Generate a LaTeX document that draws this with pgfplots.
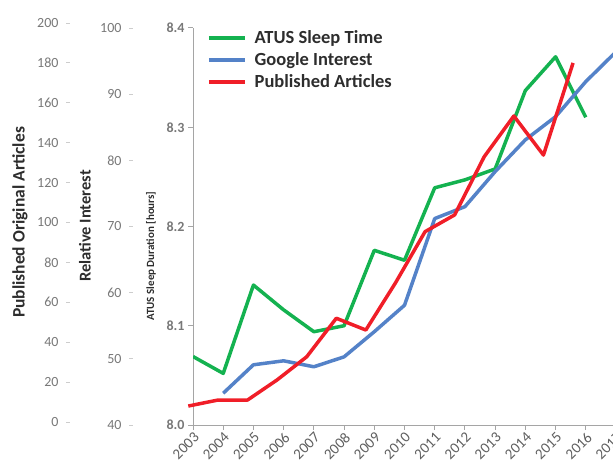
\documentclass[border=0pt]{standalone}
\usepackage{pgfplots}
\pgfplotsset{compat=1.18}
\usepackage{fontspec}
\setmainfont{Carlito}
\definecolor{cgreen}{RGB}{20,178,80}
\definecolor{cblue}{RGB}{84,130,200}
\definecolor{cred}{RGB}{240,30,40}
\definecolor{tickgray}{RGB}{120,120,120}
\definecolor{xtickgray}{RGB}{95,95,95}
\definecolor{axgray}{RGB}{165,165,165}
\definecolor{lightax}{RGB}{205,205,205}
\definecolor{titlecol}{RGB}{45,45,45}

\pgfplotstableread{
x y
2003 8.069
2004 8.052
2005 8.141
2006 8.116
2007 8.094
2008 8.100
2009 8.176
2010 8.166
2011 8.239
2012 8.247
2013 8.258
2014 8.337
2015 8.371
2016 8.310
}\atus

\pgfplotstableread{
x y
2004 44.8
2005 49.1
2006 49.7
2007 48.8
2008 50.3
2009 54.1
2010 58.1
2011 71.2
2012 73.0
2013 78.3
2014 83.1
2015 86.6
2016 91.9
2017 96.4
}\google

\pgfplotstableread{
x y
2002.844 8.0
2003.824 11.0
2004.804 11.0
2005.784 21.1
2006.764 32.7
2007.743 52.0
2008.720 46.1
2009.700 69.7
2010.680 95.4
2011.659 103.8
2012.639 133.0
2013.619 153.4
2014.599 133.8
2015.579 180.0
}\articles

\begin{document}
\begin{tikzpicture}
\useasboundingbox (0,0) rectangle (613pt,461pt);

% main ATUS axis
\begin{axis}[
  at={(193pt,36pt)}, anchor=south west,
  width=423pt, height=397pt, scale only axis,
  xmin=2003, xmax=2017, ymin=8.0, ymax=8.4,
  axis x line*=bottom, axis y line*=left,
  axis line style={axgray, line width=1pt},
  tick style={axgray, line width=1pt},
  tick align=outside, major tick length=5pt,
  xtick={2003,...,2017},
  ytick={8.0,8.1,8.2,8.3,8.4},
  /pgf/number format/assume math mode=true,
  xticklabel style={rotate=45, anchor=north east, inner sep=1pt, font=\fontsize{15}{15}\selectfont, text=xtickgray, /pgf/number format/1000 sep={}},
  yticklabel style={font=\bfseries\fontsize{14}{14}\selectfont, text=tickgray, /pgf/number format/.cd, fixed, fixed zerofill, precision=1},
  legend style={at={(0.033,1.003)}, anchor=north west, draw=none, fill=none,
     font=\bfseries\fontsize{18.5}{22}\selectfont, text=titlecol,
     inner sep=0pt, row sep=0pt,
     nodes={inner sep=2pt, text height=14pt, text depth=4pt},
     /tikz/every odd column/.append style={column sep=6pt}},
  legend cell align=left,
  legend image code/.code={\draw[#1] (0pt,0pt) -- (36pt,0pt);},
]
\addplot[cgreen, line width=3.5pt, line join=round] table[x=x,y=y]{\atus};
\addlegendentry{ATUS Sleep Time}
\addlegendimage{cblue, line width=3.5pt}
\addlegendentry{Google Interest}
\addlegendimage{cred, line width=3.5pt}
\addlegendentry{Published Articles}
\end{axis}

% Google interest data axis
\begin{axis}[
  at={(193pt,36pt)}, anchor=south west,
  width=423pt, height=397pt, scale only axis,
  xmin=2003, xmax=2017, ymin=40, ymax=100,
  hide axis, clip=false,
]
\addplot[cblue, line width=3.5pt, line join=round] table[x=x,y=y]{\google};
\end{axis}

% Published articles data axis
\begin{axis}[
  at={(193pt,39pt)}, anchor=south west,
  width=423pt, height=399pt, scale only axis,
  xmin=2003, xmax=2017, ymin=0, ymax=200,
  hide axis, clip=false,
]
\addplot[cred, line width=3.5pt, line join=round] table[x=x,y=y]{\articles};
\end{axis}

% Relative interest scale
\begin{axis}[
  at={(133pt,36pt)}, anchor=south west,
  width=10pt, height=397pt, scale only axis,
  xmin=0, xmax=1, ymin=40, ymax=100,
  hide x axis, axis y line*=left,
  y axis line style={draw=none},
  ytick={40,50,...,100},
  tick align=outside, major tick length=4pt,
  ytick style={lightax, line width=0.8pt},
  /pgf/number format/assume math mode=true,
  yticklabel style={font=\fontsize{14}{14}\selectfont, text=tickgray, xshift=-4pt},
]
\end{axis}

% Published articles scale
\begin{axis}[
  at={(70pt,39pt)}, anchor=south west,
  width=10pt, height=399pt, scale only axis,
  xmin=0, xmax=1, ymin=0, ymax=200,
  hide x axis, axis y line*=left,
  y axis line style={draw=none},
  ytick={0,20,...,200},
  tick align=outside, major tick length=4pt,
  ytick style={lightax, line width=0.8pt},
  /pgf/number format/assume math mode=true,
  yticklabel style={font=\fontsize{14}{14}\selectfont, text=tickgray, xshift=-4pt},
]
\end{axis}

\node[rotate=90, font=\bfseries\fontsize{17.5}{17.5}\selectfont, text=titlecol] at (20pt,238.5pt) {Published Original Articles};
\node[rotate=90, font=\bfseries\fontsize{16.5}{16.5}\selectfont, text=titlecol] at (85pt,235pt) {Relative Interest};
\node[rotate=90, font=\bfseries\fontsize{11}{11}\selectfont, text=titlecol] at (151pt,205pt) {ATUS Sleep Duration [hours]};
\end{tikzpicture}
\end{document}
